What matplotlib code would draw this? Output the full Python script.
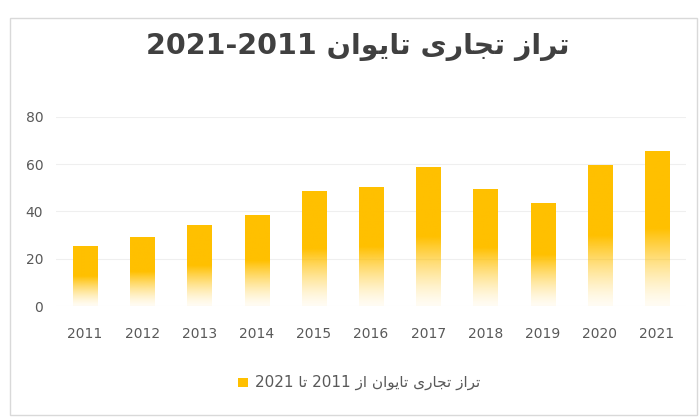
import numpy as np
import matplotlib
matplotlib.use("Agg")
import matplotlib.pyplot as plt
from matplotlib.patches import Rectangle
from matplotlib.colors import to_rgb

# ---- data ----
years = ["2011", "2012", "2013", "2014", "2015", "2016", "2017", "2018", "2019", "2020", "2021"]
values = [25, 29, 34, 38.5, 48.5, 50, 58.5, 49.5, 43.5, 59.5, 65.5]
yticks = [0, 20, 40, 60, 80]

# Persian text (presentation forms, visual order for left-to-right rendering)
taraz = "\uFEAF\uFE8D\uFEAE\uFE97"
tejari = "\uFBFC\uFEAD\uFE8E\uFEA0\uFE97"
taiwan = "\uFEE5\uFE8D\uFEEE\uFBFE\uFE8E\uFE97"
az = "\uFEAF\uFE8D"
ta = "\uFE8E\uFE97"
title_text = "2021-2011 " + taiwan + " " + tejari + " " + taraz
legend_text = "2021 " + ta + " 2011 " + az + " " + taiwan + " " + tejari + " " + taraz

plt.rcParams['font.family'] = ['DejaVu Sans']

W, H = 700, 419
fig = plt.figure(figsize=(W / 100, H / 100), dpi=100)

# outer border
fig.patches.append(Rectangle((10 / W, 4 / H), 687 / W, 397 / H, transform=fig.transFigure,
                             fill=False, edgecolor="#d9d9d9", linewidth=1.0))

left, right = 56.4, 685.6
bottom_px, top_px = 306, 117
ax = fig.add_axes([left / W, (H - bottom_px) / H, (right - left) / W, (bottom_px - top_px) / H])

x = np.arange(len(years))
bars = ax.bar(x, values, width=0.42, color="none", edgecolor="none")

base = np.array(to_rgb("#FFC000"))
n = 200
f = np.linspace(0, 1, n)  # 0 bottom, 1 top
alpha = np.where(f > 0.5, 1.0, 0.05 + 0.95 * (f / 0.5) ** 1.4)
img = np.zeros((n, 1, 4))
img[:, 0, :3] = base
img[:, 0, 3] = alpha
for b in bars:
    x0 = b.get_x()
    w = b.get_width()
    h = b.get_height()
    ax.imshow(img, extent=(x0, x0 + w, 0, h), origin="lower", aspect="auto",
              interpolation="bilinear", zorder=2)

ax.set_xlim(-0.5, len(years) - 0.5)
ax.set_ylim(0, 80)
ax.set_yticks(yticks)
ax.set_xticks(x)
ax.set_xticklabels(years)
ax.grid(axis="y", color="#efefef", linewidth=0.8, zorder=0)
ax.set_axisbelow(True)
for s in ax.spines.values():
    s.set_visible(False)
ax.tick_params(axis="both", length=0, labelsize=10, labelcolor="#595959")
ax.tick_params(axis="y", pad=9.5)
ax.tick_params(axis="x", pad=15)

fig.text(358 / W, 1 - 47 / H, title_text, ha="center", va="center",
         fontsize=20.5, fontweight="bold", color="#404040")

# legend
fig.patches.append(Rectangle((238 / W, 1 - 387 / H), 9.5 / W, 9.5 / H, transform=fig.transFigure,
                             facecolor="#FFC000", edgecolor="none"))
fig.text(255 / W, 1 - 382 / H, legend_text, ha="left", va="center",
         fontsize=11, color="#595959")

fig.savefig("out.png", dpi=100)
